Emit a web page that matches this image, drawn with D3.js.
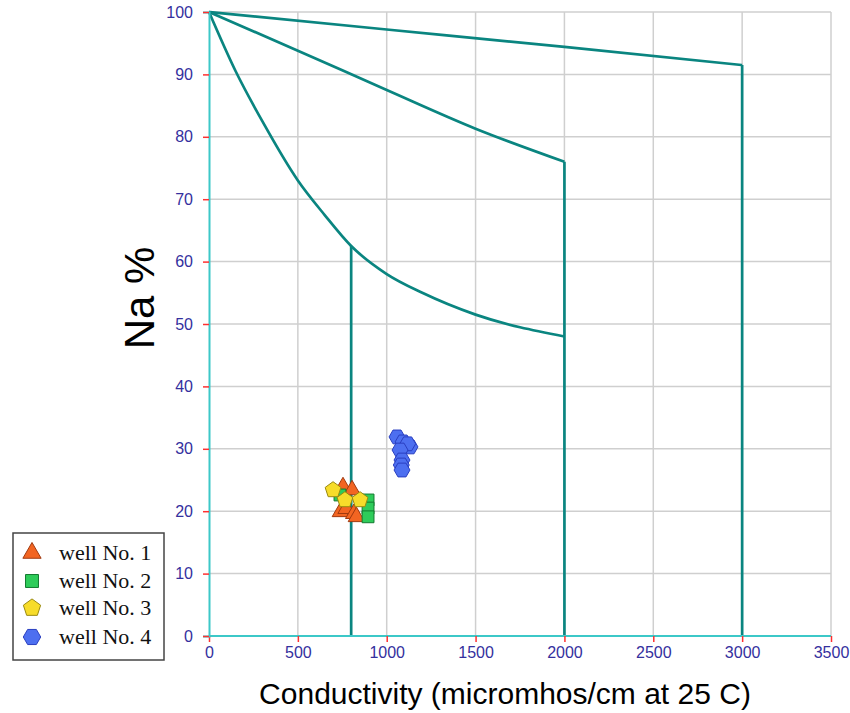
<!DOCTYPE html>
<html>
<head>
<meta charset="utf-8">
<script src="https://cdn.jsdelivr.net/npm/d3@7"></script>
<style>
  body { margin: 0; background: #fff; }
  svg { display: block; }
</style>
</head>
<body>
<script>
// Chart data.
const xTicks = [0, 500, 1000, 1500, 2000, 2500, 3000, 3500];
const yTicks = [0, 10, 20, 30, 40, 50, 60, 70, 80, 90, 100];

// Boundary curves of the classification diagram (conductivity, Na %).
const curveOuter = [[0, 100], [1000, 97.2], [2000, 94.4], [3000, 91.5]];
const curveMiddle = [[0, 100], [500, 93.8], [1000, 87.5], [1500, 81.3], [2000, 76]];
const curveInner = [[0, 100], [150, 90.5], [300, 82.5], [500, 73], [650, 67.5], [800, 62.5],
  [1000, 58], [1200, 55], [1500, 51.5], [2000, 48]];
// Vertical dividers: x position and the top where they meet a curve.
const dividers = [[800, 62.5], [2000, 76], [3000, 91.5]];

const wellNames = ["well No. 1", "well No. 2", "well No. 3", "well No. 4"];
const well1 = [[754, 23.9], [805, 23.4], [740, 19.9], [772, 20.4], [815, 19.6], [830, 19.1]];
const well2 = [[737, 22.6], [895, 21.8], [895, 20.5], [895, 19.1]];
const well3 = [[698, 23.4], [765, 21.8], [850, 21.8]];
const well4 = [[1058, 31.9], [1092, 31.1], [1131, 30.3], [1118, 30.8], [1075, 29.8],
  [1086, 28.2], [1082, 27.4], [1086, 26.6]];

const width = 850;
const height = 713;
const margin = {top: 12, right: 19, bottom: 77, left: 209};

const svg = d3.select("body").append("svg")
    .attr("width", width)
    .attr("height", height);

const x = d3.scaleLinear().domain([0, 3500]).range([margin.left, width - margin.right]);
const y = d3.scaleLinear().domain([0, 100]).range([height - margin.bottom, margin.top]);

// grid
svg.append("g").selectAll("line").data(xTicks.slice(1)).enter().append("line")
    .attr("x1", d => x(d)).attr("x2", d => x(d))
    .attr("y1", y(0)).attr("y2", y(100))
    .attr("stroke", "#cfcfcf").attr("stroke-width", 1.5);
svg.append("g").selectAll("line").data(yTicks.slice(1)).enter().append("line")
    .attr("x1", x(0)).attr("x2", x(3500))
    .attr("y1", d => y(d)).attr("y2", d => y(d))
    .attr("stroke", "#cfcfcf").attr("stroke-width", 1.5);

// curves
const line = d3.line().x(d => x(d[0])).y(d => y(d[1])).curve(d3.curveMonotoneX);
[curveOuter, curveMiddle, curveInner].forEach(c => {
  svg.append("path").attr("d", line(c))
      .attr("fill", "none").attr("stroke", "#0a8580").attr("stroke-width", 2.7);
});
svg.append("g").selectAll("line").data(dividers).enter().append("line")
    .attr("x1", d => x(d[0])).attr("x2", d => x(d[0]))
    .attr("y1", d => y(d[1])).attr("y2", y(0))
    .attr("stroke", "#0a8580").attr("stroke-width", 2.7);

// axes
const xAxis = svg.append("g")
    .attr("transform", `translate(0,${y(0)})`)
    .call(d3.axisBottom(x).tickValues(xTicks).tickSize(6).tickPadding(5).tickFormat(d3.format("d")));
const yAxis = svg.append("g")
    .attr("transform", `translate(${x(0)},0)`)
    .call(d3.axisLeft(y).tickValues(yTicks).tickSize(6).tickPadding(10));
[xAxis, yAxis].forEach(a => {
  a.select(".domain").attr("stroke", "#3cc8c8").attr("stroke-width", 2);
  a.selectAll(".tick line").attr("stroke", "#ff3030").attr("stroke-width", 1.5);
  a.selectAll(".tick text").attr("fill", "#34309e")
      .style("font-family", "Arial, 'Liberation Sans', sans-serif").style("font-size", "16px");
});
// cyan axis line over the plot bottom
xAxis.select(".domain").attr("d", `M${x(0)},0H${x(3500)}`);

// symbols
const pentagon = {
  draw(ctx, size) {
    const r = Math.sqrt(size / 2.4);
    for (let i = 0; i < 5; i++) {
      const a = -Math.PI / 2 + i * 2 * Math.PI / 5;
      i ? ctx.lineTo(r * Math.cos(a), r * Math.sin(a)) : ctx.moveTo(r * Math.cos(a), r * Math.sin(a));
    }
    ctx.closePath();
  }
};
const hexagon = {
  draw(ctx, size) {
    const r = Math.sqrt(size / 2.6);
    for (let i = 0; i < 6; i++) {
      const a = i * Math.PI / 3;
      i ? ctx.lineTo(r * Math.cos(a), r * Math.sin(a)) : ctx.moveTo(r * Math.cos(a), r * Math.sin(a));
    }
    ctx.closePath();
  }
};

const styles = [
  {data: well1, type: d3.symbolTriangle, size: 120, fill: "#f26522", stroke: "#a03a10"},
  {data: well2, type: d3.symbolSquare, size: 140, fill: "#2ecc5a", stroke: "#137a30"},
  {data: well3, type: pentagon, size: 165, fill: "#f7dc2a", stroke: "#9a8a10"},
  {data: well4, type: hexagon, size: 165, fill: "#4d6ff0", stroke: "#2a3fc0"}
];

styles.forEach(s => {
  svg.append("g").selectAll("path").data(s.data).enter().append("path")
      .attr("transform", d => `translate(${x(d[0])},${y(d[1])})`)
      .attr("d", d3.symbol().type(s.type).size(s.size))
      .attr("fill", s.fill).attr("stroke", s.stroke).attr("stroke-width", 1);
});

// axis titles
svg.append("text")
    .attr("transform", "translate(154,298) rotate(-90)")
    .attr("text-anchor", "middle")
    .style("font-family", "Arial, 'Liberation Sans', sans-serif")
    .style("font-size", "42px")
    .text("Na %");
svg.append("text")
    .attr("x", 505).attr("y", 704)
    .attr("text-anchor", "middle")
    .style("font-family", "Arial, 'Liberation Sans', sans-serif")
    .style("font-size", "30px")
    .text("Conductivity (micromhos/cm at 25 C)");

// legend
const legend = svg.append("g");
legend.append("rect")
    .attr("x", 13).attr("y", 533).attr("width", 151).attr("height", 127)
    .attr("fill", "#fff").attr("stroke", "#444").attr("stroke-width", 1.5);
const legendY = [553, 581, 608, 637];
styles.forEach((s, i) => {
  legend.append("path")
      .attr("transform", `translate(32,${legendY[i]})`)
      .attr("d", d3.symbol().type(s.type).size(s.size * 1.2))
      .attr("fill", s.fill).attr("stroke", s.stroke).attr("stroke-width", 1);
  legend.append("text")
      .attr("x", 59).attr("y", legendY[i] + 7)
      .style("font-family", "'Liberation Serif', 'Times New Roman', serif")
      .style("font-size", "22px")
      .attr("fill", "#111")
      .text(wellNames[i]);
});
</script>
</body>
</html>
